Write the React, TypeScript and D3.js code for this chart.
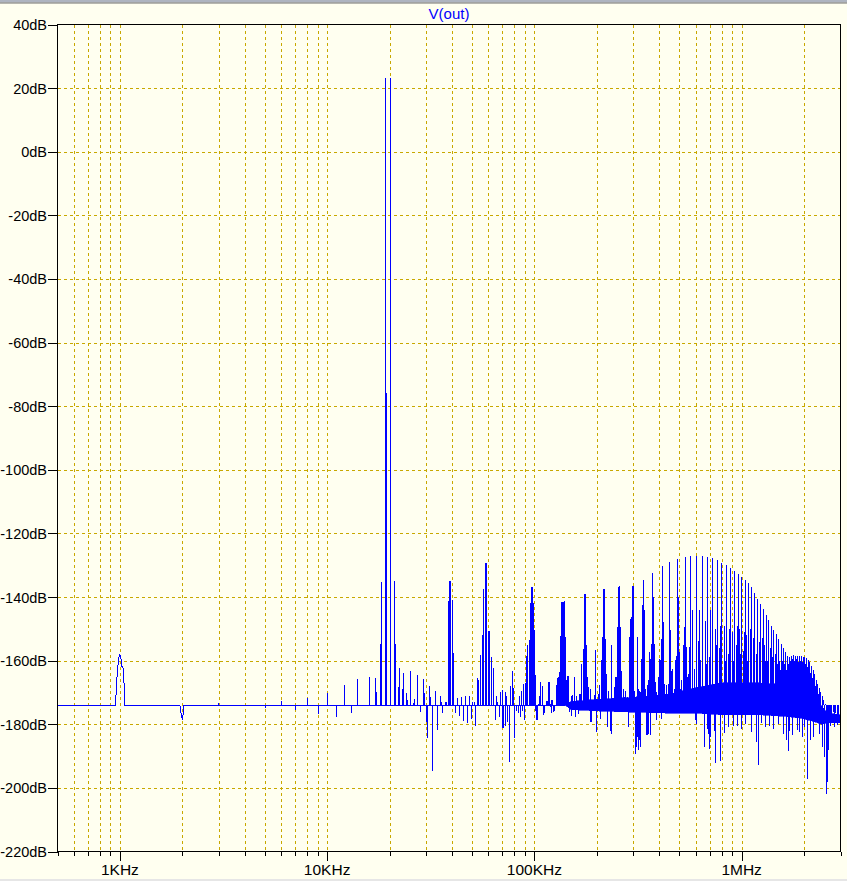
import React from 'react';
import * as d3 from 'd3';

// ---------- axis definitions ----------
const yTickValues = [40, 20, 0, -20, -40, -60, -80, -100, -120, -140, -160, -180, -200, -220];
const yTickLabels = ['40dB', '20dB', '0dB', '-20dB', '-40dB', '-60dB', '-80dB', '-100dB', '-120dB', '-140dB', '-160dB', '-180dB', '-200dB', '-220dB'];
const xDecadeHz = [1e3, 1e4, 1e5, 1e6];
const xDecadeLabels = ['1KHz', '10KHz', '100KHz', '1MHz'];
const title = 'V(out)';
const baselineDb = -174;

// ---------- data (frequency in kHz, level in dB) ----------
// baseline trace with the bump at 1 kHz, the dip at 2 kHz, the tick at 3 kHz
const trace: [number, number][] = [
  [0.5, -174], [0.95, -174], [0.9566, -171.5], [0.9672, -165.7], [0.978, -161.7], [0.9889, -159.1],
  [1.0, -158.2], [1.0112, -159.1], [1.0225, -161.7], [1.034, -161.7], [1.0454, -165.9], [1.057, -174],
  [1.948, -174], [1.97, -176.4], [1.985, -177.4], [2.0, -178.6], [2.015, -177.4], [2.036, -174],
  [2.99, -174], [3.0, -173.4], [3.01, -174], [141, -174],
];

// tones and spurs up to ~140 kHz
const spurs: [number, number][] = [
  [5.0, -174.8], [5.98, -173.6], [6.0, -172.8], [6.98, -174.8], [7.0, -175.4], [7.98, -172.8], [8.0, -171.6],
  [9.0, -176.8], [9.98, -172.2], [10.0, -170.1], [11.0, -177.8], [11.05, -175.9], [12.0, -167.8], [13.0, -176.5],
  [13.05, -175.2], [14.0, -165.9], [16.0, -165.2], [17.0, -165.5], [17.2, -169.9], [17.96, -154.9], [18.2, -135.4],
  [18.97, 23.1], [19.18, -75.7], [20.0, 23.1], [20.94, -135.0], [21.18, -154.9], [21.93, -168.3], [22.17, -162.4],
  [22.93, -168.9], [23.18, -164.0], [23.97, -170.3], [24.2, -172.5], [25.0, -163.4], [25.95, -173.3], [26.2, -172.0],
  [27.0, -164.6], [28.0, -176.1], [29.0, -165.8], [29.3, -170.3], [30.0, -179.3], [30.3, -184.4], [31.0, -167.9],
  [31.3, -171.3], [32.0, -194.7], [33.0, -169.4], [34.0, -181.8], [35.0, -171.0], [35.4, -173.0], [36.0, -176.3],
  [37.0, -173.0], [37.4, -173.0], [38.2, -141.4], [38.6, -135.1], [39.0, -135.1], [39.9, -140.8], [40.3, -157.7],
  [41.3, -176.3], [42.2, -171.6], [43.1, -177.5], [44.1, -171.3], [45.1, -179.0], [46.1, -171.0], [47.1, -179.7],
  [48.1, -171.0], [49.2, -178.3], [50.2, -173.0], [51.0, -173.0], [51.9, -180.6], [53.0, -165.4], [53.6, -166.0],
  [54.8, -158.1], [56.0, -151.8], [56.6, -137.6], [57.9, -129.4], [58.7, -129.4], [59.8, -150.6], [60.4, -150.6],
  [61.8, -159.0], [63.2, -162.4], [64.6, -178.6], [65.3, -171.0], [66.1, -173.0], [67.6, -177.6], [68.3, -169.7],
  [69.9, -169.1], [70.0, -181.1], [70.7, -181.1], [72.3, -180.6], [72.4, -169.7], [73.1, -171.0], [74.0, -179.3],
  [75.7, -191.8], [76.6, -167.9], [78.3, -163.4], [79.2, -168.6], [80.1, -184.2], [81.9, -175.9], [83.8, -176.5],
  [83.9, -173.0], [84.7, -171.0], [85.7, -177.6], [86.6, -169.4], [87.6, -175.9], [88.6, -167.4], [89.6, -178.6],
  [90.6, -167.1], [91.6, -158.4], [92.6, -155.2], [93.7, -153.6], [95.1, -142.0], [96.2, -136.7], [97.3, -136.7],
  [98.4, -142.0], [99.5, -150.5], [100.6, -164.6], [100.7, -175.9], [101.7, -178.6], [102.9, -178.6], [104.0, -173.5],
  [105.2, -171.1], [106.4, -166.6], [107.6, -173.9], [108.8, -168.0], [110.0, -177.1], [111.2, -176.5], [112.5, -173.9],
  [113.8, -172.8], [115.0, -172.8], [116.3, -166.6], [117.6, -166.8], [118.9, -173.5], [119.0, -174.7], [120.3, -172.5],
  [120.4, -176.3], [121.6, -172.3], [123.0, -176.1], [124.4, -175.9], [127.2, -167.7], [128.6, -165.3], [130.1, -165.1],
  [131.6, -163.6], [133.0, -152.4], [134.6, -141.6], [136.1, -141.6], [137.6, -141.6], [138.6, -141.4], [140.3, -152.6],
  [141.8, -166.1],
];

// spikes 140 kHz - 560 kHz
const midSpikes: [number, number][] = [
  [141.3, -160.5], [142.9, -164.7], [144.5, -164.7], [146.0, -170.5], [149.4, -171.0], [152.7, -170.8], [155.0, -165.0],
  [158.5, -171.0], [163.8, -170.6], [166.9, -170.5], [168.8, -161.0], [170.7, -156.3], [172.6, -155.7],
  [174.5, -139.2], [176.4, -139.0], [178.4, -155.2], [180.4, -165.2], [182.4, -168.3], [184.5, -168.8], [192.9, -170.8],
  [195.7, -156.8], [203.1, -170.4], [205.4, -167.5],
  [210.0, -159.9], [212.3, -152.6], [214.7, -137.4], [217.1, -137.4], [219.5, -153.1], [222.0, -164.1], [227.0, -169.4],
  [229.5, -172.0], [234.7, -155.2], [241.7, -168.3],
  [244.4, -165.2], [247.2, -165.2], [249.9, -149.5], [252.7, -136.9], [255.6, -136.4], [258.4, -149.5], [261.3, -163.1],
  [267.2, -168.8], [270.2, -171.5], [273.2, -169.4], [279.3, -171.5], [285.6, -152.6], [288.8, -146.8], [292.0, -146.3],
  [295.3, -136.4], [298.6, -136.4], [301.9, -169.4], [312.1, -152.6],
  [315.6, -168.8], [319.2, -169.4], [322.7, -169.9], [326.3, -159.4], [330.0, -142.6], [333.7, -134.7], [337.4, -144.2],
  [341.2, -168.8], [345.0, -171.5], [348.8, -167.7], [352.7, -166.2], [356.7, -157.3],
  [360.6, -159.4], [364.7, -154.7], [368.8, -132.4], [372.9, -140.0], [377.0, -154.7], [381.3, -166.8], [385.5, -169.9],
  [389.8, -170.9], [394.2, -165.2],
  [398.6, -159.4], [403.0, -159.9], [407.5, -153.1], [412.1, -130.1], [416.7, -147.9], [421.3, -167.3], [426.1, -170.9],
  [430.8, -167.8], [435.6, -170.9],
  [440.5, -167.3], [445.4, -129.0], [450.4, -150.5], [455.4, -163.1], [460.5, -162.6], [465.6, -170.4], [470.9, -168.8],
  [476.1, -159.9], [481.4, -158.4],
  [486.8, -128.0], [492.2, -140.0], [497.8, -157.3], [503.3, -168.8], [508.9, -166.2], [514.6, -169.4], [520.4, -155.2],
  [526.2, -149.5], [532.1, -127.5], [538.0, -155.7], [544.0, -165.2], [550.1, -164.1], [556.2, -155.7],
];

// main harmonic comb above 560 kHz
const harmonics: [number, number][] = [
  [565.5, -127.2], [604.5, -127.0], [643.5, -127.1], [682.5, -127.3], [721.5, -127.6], [760.5, -128.3], [799.5, -129.2],
  [838.5, -129.8], [877.5, -131.0], [916.5, -131.7], [955.5, -132.6], [994.5, -133.7], [1033.5, -134.6], [1072.5, -135.7],
  [1111.5, -137.0], [1150.5, -138.6], [1189.5, -140.5], [1228.5, -142.1], [1267.5, -143.9], [1306.5, -145.6],
  [1345.5, -147.3], [1384.5, -149.0], [1423.5, -150.4], [1462.5, -151.7], [1501.5, -153.2], [1540.5, -154.9],
  [1579.5, -156.0], [1618.5, -157.4], [1657.5, -158.4], [1696.5, -159.0], [1735.5, -158.6], [1774.5, -158.3],
  [1813.5, -158.4], [1852.5, -158.5], [1891.5, -158.4], [1930.5, -158.6], [1969.5, -158.8], [2008.5, -158.9],
  [2047.5, -159.3], [2086.5, -159.8], [2125.5, -160.5], [2164.5, -161.7], [2203.5, -162.8], [2242.5, -164.3],
  [2281.5, -166.0], [2320.5, -167.3], [2359.5, -168.7], [2398.5, -170.0], [2437.5, -171.2], [2476.5, -172.3],
  [2515.5, -173.5],
];

// secondary spikes between the harmonics
const sideSpikes: [number, number][] = [
  [575, -144.2], [588, -162.6], [615, -153.7], [622, -144.2], [632, -159.9], [664, -147.4], [672, -161.0],
  [697, -158.9], [705, -144.2], [740, -150], [752, -155], [780, -156], [790, -149], [819, -149], [830, -160],
  [858, -158], [867, -150], [897, -151], [905, -160], [936, -155], [945, -149], [975, -150], [985, -158],
  [1014, -157], [1024, -151], [1053, -152], [1062, -160], [1092, -156], [1101, -150], [1131, -153], [1140, -159],
  [1170, -158], [1180, -152], [1209, -154], [1218, -160], [1248, -157], [1258, -153], [1287, -155], [1297, -160],
  [1326, -160], [1336, -156], [1365, -156], [1375, -161], [1404, -159], [1414, -157], [1443, -158], [1453, -162],
  [1482, -161], [1492, -158], [1521, -160], [1531, -163], [1560, -162], [1570, -160], [1599, -161], [1609, -164],
  [1638, -163], [1648, -161], [1677, -161], [1716, -160], [1755, -159.5], [1794, -160], [1833, -159.5], [1872, -160.5],
  [1911, -160], [1950, -160.5], [1989, -161], [2028, -161], [2067, -162], [2106, -163], [2145, -164], [2184, -165.5],
  [2223, -167], [2262, -168], [2301, -169.5], [2340, -170.5],
  [2650, -176.3], [2700, -177.0], [2760, -176.0], [2820, -176.4], [2870, -177.0], [2920, -176.8], [2970, -177.4],
];

// downward excursions above 140 kHz
const dips: [number, number][] = [
  [147.7, -176.2], [151.0, -177.4], [156.7, -177.7], [162.0, -176.7], [186.5, -179.3], [188.6, -179.3], [197.9, -182.5],
  [207.7, -178.3], [224.5, -180.9], [232.1, -182.0], [234.7, -183.0], [282.4, -180.9], [305.3, -189.3], [308.7, -187.2],
  [312.1, -184.0], [315.6, -188.2], [319.2, -185.1], [322.7, -187.2], [345.0, -183.5], [348.8, -183.5], [352.7, -183.0],
  [360.6, -183.5], [385.5, -178.8], [407.5, -178.3], [594.6, -178.8], [601.2, -179.9], [656.5, -187.2], [679.4, -181.4],
  [687.3, -183.0], [693.6, -187.7], [705.3, -184.0], [737.3, -182.0], [747.5, -192.2], [790, -191.4], [825.7, -182.8],
  [860, -181.0], [907.7, -180.4], [948.6, -180.4], [990, -181.5], [1040, -180.0], [1110, -182.5], [1168, -185.6],
  [1202, -192.9], [1247, -179.6], [1300, -181.0], [1350, -180.5], [1420, -181.5], [1500, -180.0], [1584, -183.0],
  [1632, -185.1], [1681, -188.4], [1700, -182.0], [1745, -183.5], [1848, -181.9], [1900, -182.5], [1950, -184.0],
  [2000, -181.0], [2061, -197.1], [2131, -185.1], [2220, -184.0], [2366, -183.0], [2455, -187.2], [2500, -190.3],
  [2547, -198.5], [2566, -201.8], [2594, -198.2], [2622, -188.2], [2680, -180.5], [2790, -180.8], [2900, -180.2],
  [2980, -179.8],
];

// dense noise floor: [kHz, top dB, bottom dB]
const band: [number, number, number][] = [
  [141, -174, -174], [150, -172.8, -175.4], [200, -172.2, -175.8], [300, -171.5, -176.2], [450, -170.5, -176.5],
  [600, -168.5, -176.5], [800, -167, -177], [1200, -167, -177], [1600, -167.5, -177.5], [1900, -167.5, -178],
  [2200, -169.5, -179], [2450, -174.5, -180], [2600, -176.5, -179.5], [3000, -177, -179.5],
];

// ---------- layout ----------
const W = 847;
const H = 881;
const L = 57.5, R = 840.5, T = 24.5, B = 851.5;
const FONT = '"Liberation Sans", Arial, sans-serif';
const GRID = '#c8a800';
const TRACE = '#0000ff';

export default function App() {
  const x = d3.scaleLog().domain([500, 3e6]).range([L, R]);
  const y = d3.scaleLinear().domain([-220, 40]).range([B, T]);
  const fx = (k: number) => x(k * 1000);

  const allXTicks = x.ticks();
  const gridX = allXTicks.filter((t) => t > 500 && t < 3e6);
  const gridY = yTickValues.filter((v) => v > -220 && v < 40);

  const areaGen = d3
    .area<[number, number, number]>()
    .x((d) => fx(d[0]))
    .y0((d) => y(d[2]))
    .y1((d) => y(d[1]));
  const lineGen = d3
    .line<[number, number]>()
    .x((d) => fx(d[0]))
    .y((d) => y(d[1]));

  const spikePath = (list: [number, number][]) =>
    list
      .map((d) => {
        const px = Math.round(fx(d[0])) + 0.5;
        return `M${px},${y(baselineDb)}V${y(d[1])}`;
      })
      .join('');

  return (
    <div style={{ position: 'fixed', left: 0, top: 0 }}>
      <svg width={W} height={H} style={{ display: 'block' }} fontFamily={FONT}>
        <rect x={0} y={0} width={W} height={H} fill="#fffff0" />
        <rect x={0} y={0} width={W} height={2.5} fill="#aeb4c0" />
        <rect x={0} y={2.5} width={W} height={1} fill="#6e6e6e" />
        <rect x={0} y={879} width={W} height={2} fill="#e6e6e6" />

        {/* grid */}
        <g stroke={GRID} strokeWidth={1} strokeDasharray="3,3" shapeRendering="crispEdges">
          {gridX.map((t) => (
            <line key={'gx' + t} x1={Math.round(x(t)) + 0.5} x2={Math.round(x(t)) + 0.5} y1={T} y2={B} />
          ))}
          {gridY.map((v) => (
            <line key={'gy' + v} x1={L} x2={R} y1={Math.round(y(v)) + 0.5} y2={Math.round(y(v)) + 0.5} />
          ))}
        </g>

        {/* trace */}
        <g shapeRendering="crispEdges">
          <path d={areaGen(band) || ''} fill={TRACE} stroke={TRACE} strokeWidth={0.6} />
          <path d={spikePath(dips)} stroke={TRACE} strokeWidth={1} fill="none" />
          <path d={spikePath(sideSpikes)} stroke={TRACE} strokeWidth={1} fill="none" />
          <path d={spikePath(midSpikes)} stroke={TRACE} strokeWidth={1} fill="none" />
          <path d={spikePath(harmonics)} stroke={TRACE} strokeWidth={1} fill="none" />
          <path d={spikePath(spurs)} stroke={TRACE} strokeWidth={1} fill="none" />
          <path d={lineGen(trace) || ''} stroke={TRACE} strokeWidth={1} fill="none" />
        </g>

        {/* frame */}
        <rect x={L} y={T} width={R - L} height={B - T} fill="none" stroke="#000" strokeWidth={1} shapeRendering="crispEdges" />

        {/* ticks */}
        <g shapeRendering="crispEdges" stroke="#000">
          {yTickValues.map((v) => (
            <line key={'yt' + v} x1={48} x2={L} y1={Math.round(y(v)) + 0.5} y2={Math.round(y(v)) + 0.5} />
          ))}
          {allXTicks.map((t) => {
            const major = xDecadeHz.includes(t);
            const px = Math.round(x(t)) + 0.5;
            return <line key={'xt' + t} x1={px} x2={px} y1={B} y2={B + (major ? 9 : 4)} />;
          })}
        </g>
        <g fill="#000">
          {yTickValues.map((v, i) => (
            <text key={'yl' + v} x={47} y={y(v) + 5.5} textAnchor="end" fontSize={14.5}>
              {yTickLabels[i]}
            </text>
          ))}
          {xDecadeHz.map((t, i) => (
            <text key={'xl' + t} x={x(t)} y={875} textAnchor="middle" fontSize={15.5}>
              {xDecadeLabels[i]}
            </text>
          ))}
        </g>
        <text x={(L + R) / 2} y={18.5} textAnchor="middle" fontSize={15} fill={TRACE}>
          {title}
        </text>
      </svg>
    </div>
  );
}
